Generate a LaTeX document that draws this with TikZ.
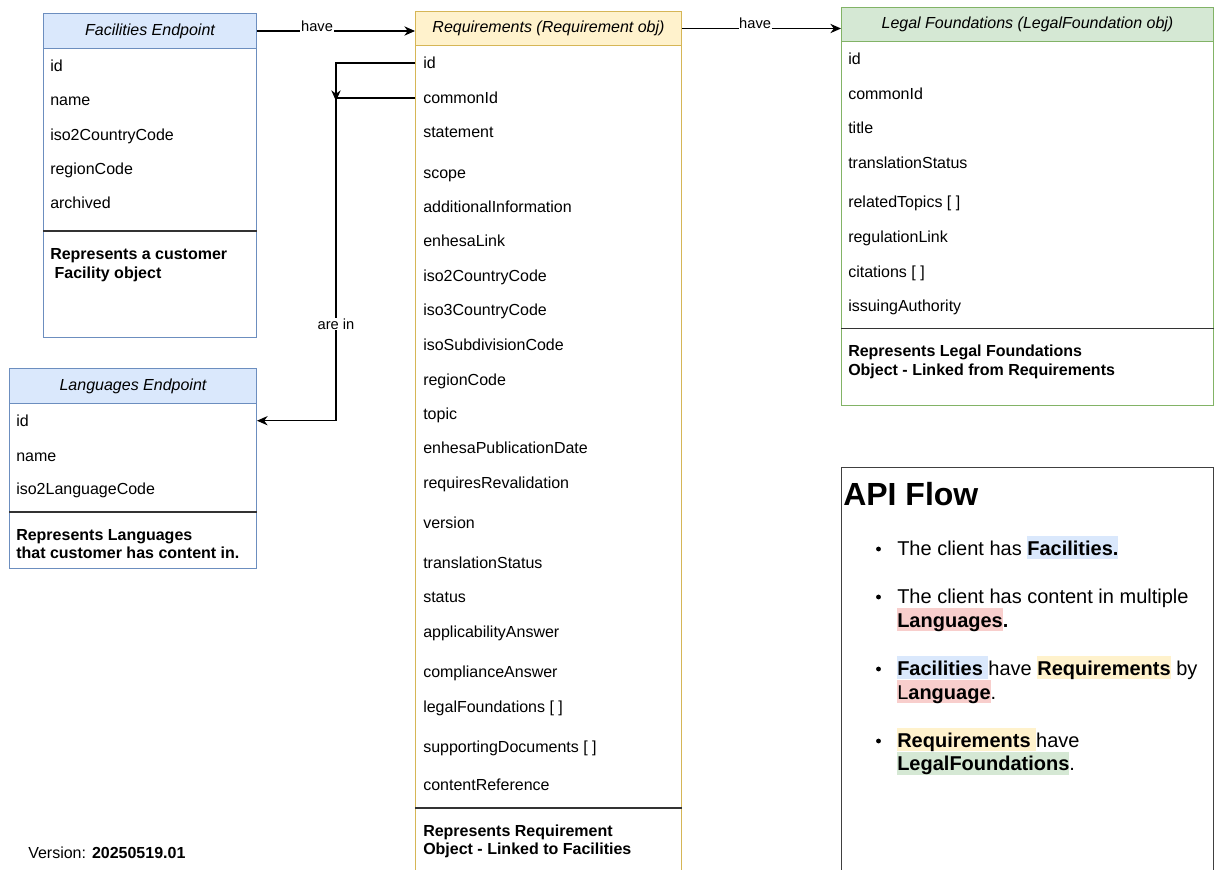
\documentclass[tikz,border=0pt]{standalone}
\usepackage{fontspec}
\setmainfont{Liberation Sans}
\usetikzlibrary{arrows.meta}
\definecolor{fbfill}{HTML}{DAE8FC}
\definecolor{fbline}{HTML}{6C8EBF}
\definecolor{yfill}{HTML}{FFF2CC}
\definecolor{yline}{HTML}{D6B656}
\definecolor{gfill}{HTML}{D5E8D4}
\definecolor{gline}{HTML}{82B366}
\definecolor{rfill}{HTML}{F8CECC}
\definecolor{divc}{HTML}{333333}
\definecolor{apiline}{HTML}{404040}
\newcommand\hlbox[2]{{\setlength{\fboxsep}{0pt}\colorbox{#1}{\rule[-3pt]{0pt}{17.25pt}#2}}}
\begin{document}
\begin{tikzpicture}[x=0.75pt,y=-0.75pt,
  hdr/.style={draw, line width=0.75pt, anchor=north west, inner sep=0, font=\fontsize{12}{14}\selectfont\itshape},
  body/.style={draw, fill=white, line width=0.75pt, anchor=north west, inner sep=0},
  row/.style={anchor=west, inner sep=0, text height=8.6pt, text depth=0pt, font=\fontsize{12}{14}\selectfont},
  desc/.style={row, font=\fontsize{12}{14}\selectfont\bfseries},
  div/.style={draw=divc, line width=1pt},
  conn/.style={draw=black, line width=0.8pt, -{Stealth[length=8pt,width=7pt,inset=2.6pt]}},
  lbl/.style={fill=white, inner sep=0.5pt, font=\fontsize{11}{13}\selectfont},
  api/.style={anchor=base west, inner sep=0, font=\fontsize{15}{18}\selectfont},
  dot/.style={circle, fill=black, inner sep=0, minimum size=3.6pt}]
\useasboundingbox (0,0) rectangle (1214,869);
\clip (0,0) rectangle (1214,869);

% ---------- Facilities ----------
\node[body, draw=fbline, minimum width=159.75pt, minimum height=216.75pt] (facbody) at (43,48) {};
\node[hdr, draw=fbline, fill=fbfill, minimum width=159.75pt, minimum height=26.25pt] (fachdr) at (43,13) {Facilities Endpoint};
\node[row] (fid) at (50,65.7) {id};
\node[row] (fname) at (50,100) {name};
\node[row] (fiso) at (50,135) {iso2CountryCode};
\node[row] (freg) at (50,169) {regionCode};
\node[row] (farch) at (50,203) {archived};
\draw[div] (facbody.west |- 0,231) -- (facbody.east |- 0,231);
\node[desc] (fdesc1) at (50,254) {Represents a customer};
\node[desc] (fdesc2) at (50,273) {\hspace*{3.3pt}Facility object};

% ---------- Languages ----------
\node[body, draw=fbline, minimum width=185.25pt, minimum height=123.75pt] (lanbody) at (9,403) {};
\node[hdr, draw=fbline, fill=fbfill, minimum width=185.25pt, minimum height=26.25pt] (lanhdr) at (9,368) {Languages Endpoint};
\node[row] (lid) at (16,420.7) {id};
\node[row] (lname) at (16,455.7) {name};
\node[row] (liso) at (16,489) {iso2LanguageCode};
\draw[div] (lanbody.west |- 0,512) -- (lanbody.east |- 0,512);
\node[desc] (ldesc1) at (16,535) {Represents Languages};
\node[desc] (ldesc2) at (16,553) {that customer has content in.};

% ---------- Requirements ----------
\node[body, draw=yline, minimum width=199.5pt, minimum height=626.25pt] (reqbody) at (415,45) {};
\node[hdr, draw=yline, fill=yfill, minimum width=199.5pt, minimum height=25.5pt] (reqhdr) at (415,11) {Requirements (Requirement obj)};
\node[row] (rid) at (423,63) {id};
\node[row] (rcid) at (423,98) {commonId};
\node[row] (rstat) at (423,131.7) {statement};
\node[row] (rscope) at (423,172.3) {scope};
\node[row] (radd) at (423,206.7) {additionalInformation};
\node[row] (rlink) at (423,241) {enhesaLink};
\node[row] (riso2) at (423,275.7) {iso2CountryCode};
\node[row] (riso3) at (423,310) {iso3CountryCode};
\node[row] (rsub) at (423,345) {isoSubdivisionCode};
\node[row] (rreg) at (423,379.3) {regionCode};
\node[row] (rtopic) at (423,414) {topic};
\node[row] (rpub) at (423,447.7) {enhesaPublicationDate};
\node[row] (rreval) at (423,482.7) {requiresRevalidation};
\node[row] (rver) at (423,522.3) {version};
\node[row] (rtrans) at (423,562.3) {translationStatus};
\node[row] (rstatus) at (423,596.7) {status};
\node[row] (rappl) at (423,631.7) {applicabilityAnswer};
\node[row] (rcomp) at (423,671.7) {complianceAnswer};
\node[row] (rlegal) at (423,706.3) {legalFoundations [ ]};
\node[row] (rsupp) at (423,746.3) {supportingDocuments [ ]};
\node[row] (rcont) at (423,785) {contentReference};
\draw[div] (reqbody.west |- 0,808) -- (reqbody.east |- 0,808);
\node[desc] (rdesc1) at (423,830.5) {Represents Requirement};
\node[desc] (rdesc2) at (423,849) {Object - Linked to Facilities};

% ---------- Legal Foundations ----------
\node[body, draw=gline, minimum width=279pt, minimum height=273pt] (legbody) at (841,41) {};
\node[hdr, draw=gline, fill=gfill, minimum width=279pt, minimum height=25.5pt] (leghdr) at (841,7) {Legal Foundations (LegalFoundation obj)};
\node[row] (gid) at (848,59) {id};
\node[row] (gcid) at (848,94) {commonId};
\node[row] (gtitle) at (848,128) {title};
\node[row] (gtrans) at (848,162.5) {translationStatus};
\node[row] (grel) at (848,202) {relatedTopics [ ]};
\node[row] (greg) at (848,237) {regulationLink};
\node[row] (gcit) at (848,271.5) {citations [ ]};
\node[row] (giss) at (848,306) {issuingAuthority};
\draw[div] (legbody.west |- 0,328.5) -- (legbody.east |- 0,328.5);
\node[desc] (gdesc1) at (848,351) {Represents Legal Foundations};
\node[desc] (gdesc2) at (848,369.5) {Object - Linked from Requirements};

% ---------- API Flow ----------
\node[body, draw=apiline, line width=1pt, minimum width=279pt, minimum height=309.75pt] (apibox) at (841,467) {};
\node[anchor=base west, inner sep=0, font=\fontsize{24}{28}\selectfont\bfseries] (apititle) at (843,505) {API Flow};
\node[dot] (b1) at (878.5,549) {};
\node[api] (a1) at (897,555) {The client has \hlbox{fbfill}{\bfseries Facilities.}};
\node[dot] (b2) at (878.5,597) {};
\node[api] (a2) at (897,603) {The client has content in multiple};
\node[api] (a2b) at (897,627) {\hlbox{rfill}{\bfseries Languages}\textbf{.}};
\node[dot] (b3) at (878.5,669) {};
\node[api] (a3) at (897,675) {\hlbox{fbfill}{\bfseries Facilities\ }have \hlbox{yfill}{\bfseries Requirements} by};
\node[api] (a3b) at (897,699) {\hlbox{rfill}{L\textbf{anguage}}.};
\node[dot] (b4) at (878.5,741) {};
\node[api] (a4) at (897,747) {\hlbox{yfill}{\bfseries Requirements\ }have};
\node[api] (a4b) at (897,770.5) {\hlbox{gfill}{\bfseries LegalFoundations}.};

% ---------- Version ----------
\node[row] (ver) at (28,853) {Version: \textbf{20250519.01}};

% ---------- Connectors ----------
\draw[conn] (fachdr.east) -- node[lbl, anchor=base, pos=0.38] {have} (fachdr.east -| reqhdr.west);
\draw[conn] (reqhdr.east) -- node[lbl, anchor=base, pos=0.46] {have} (reqhdr.east -| leghdr.west);
\coordinate (jn) at (336,101);
\draw[conn] (rid.west -| reqbody.west) -| (jn);
\draw[conn] (rcid.west -| reqbody.west) -- (rcid.west -| jn) |- node[lbl, pos=0.35] {are in} (lid.west -| lanbody.east);
\end{tikzpicture}
\end{document}
